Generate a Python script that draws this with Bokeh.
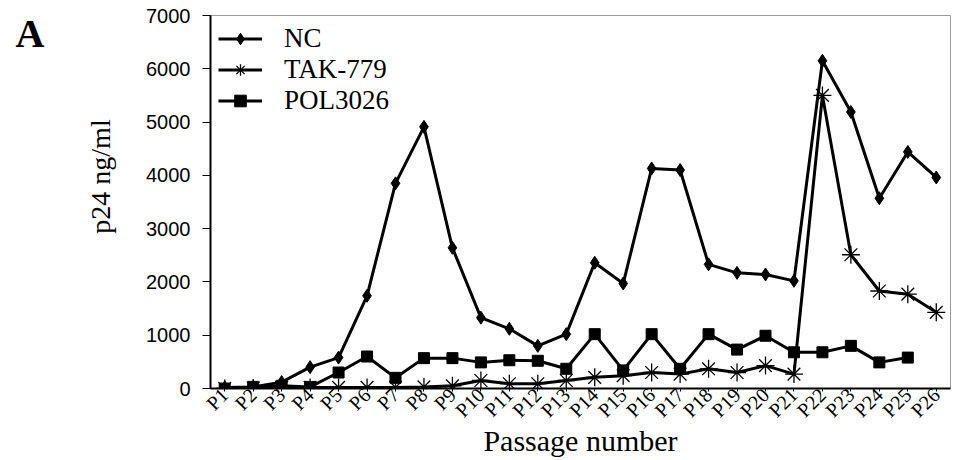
import math
from bokeh.plotting import figure
from bokeh.layouts import row
from bokeh.models import (FactorRange, Range1d, Legend, LegendItem,
                          FixedTicker, ColumnDataSource)
from bokeh.core.properties import value
from bokeh.embed import file_html
from bokeh.resources import INLINE

passages = ["P1", "P2", "P3", "P4", "P5", "P6", "P7", "P8", "P9", "P10",
            "P11", "P12", "P13", "P14", "P15", "P16", "P17", "P18", "P19",
            "P20", "P21", "P22", "P23", "P24", "P25", "P26"]
nc = [20, 30, 120, 400, 580, 1740, 3850, 4910, 2640, 1330, 1120, 800, 1020,
      2360, 1970, 4130, 4100, 2330, 2170, 2140, 2020, 6150, 5190, 3570, 4440, 3960]
tak779 = [0, 10, 20, 20, 20, 20, 20, 30, 50, 150, 90, 90, 150, 210, 240, 300,
          270, 370, 300, 430, 270, 5500, 2510, 1830, 1770, 1430]
pol3026 = [0, 30, 50, 30, 300, 600, 200, 570, 570, 490, 530, 520, 370, 1020,
           340, 1020, 370, 1020, 730, 990, 680, 680, 800, 490, 580]
y_ticks = [0, 1000, 2000, 3000, 4000, 5000, 6000, 7000]
panel_letter = "A"
y_title = "p24 ng/ml"
x_title = "Passage number"

SERIF = "Liberation Serif"
SANS = "Liberation Sans"

LEFT_W = 125
H = 460
TOP = 15
BOTTOM = 72

# left strip holding the panel letter and the y-axis title
# (its frame spans the same canvas rows as the main frame: 1 unit = 1 px)
pa = figure(width=LEFT_W, height=H, output_backend="svg", toolbar_location=None,
            title=None, x_range=Range1d(0, LEFT_W),
            y_range=Range1d(H - BOTTOM, TOP))
pa.axis.visible = False
pa.grid.visible = False
pa.outline_line_color = None
pa.min_border_left = 0
pa.min_border_right = 0
pa.min_border_top = TOP
pa.min_border_bottom = BOTTOM
pa.text(x=[15], y=[33], text=[panel_letter], text_font=value(SERIF),
        text_font_style="bold", text_font_size="40px", text_color="black",
        text_baseline="alphabetic", text_align="left")
pa.text(x=[100], y=[176], text=[y_title], text_font=value(SERIF),
        text_font_size="28px", text_color="black", angle=math.pi / 2,
        text_baseline="middle", text_align="center")

p = figure(width=962 - LEFT_W, height=H, output_backend="svg",
           toolbar_location=None,
           x_range=FactorRange(*passages, range_padding=0),
           y_range=Range1d(0, 7000))
p.min_border_left = 210 - LEFT_W
p.min_border_right = 12
p.min_border_top = TOP
p.min_border_bottom = BOTTOM
p.background_fill_color = "white"
p.border_fill_color = "white"
p.outline_line_color = "#9a9a9a"
p.outline_line_width = 1
p.xgrid.visible = False
p.ygrid.visible = False

src_nc = ColumnDataSource(dict(x=passages, y=nc))
src_tak = ColumnDataSource(dict(x=passages, y=tak779))
src_pol = ColumnDataSource(dict(x=passages[:len(pol3026)], y=pol3026))

lw = 3
l_tak = p.line("x", "y", source=src_tak, line_color="black", line_width=lw)
s_tak = p.scatter("x", "y", source=src_tak, marker="asterisk", size=18,
                  line_color="black", line_width=1.3)
l_pol = p.line("x", "y", source=src_pol, line_color="black", line_width=lw)
s_pol = p.scatter("x", "y", source=src_pol, marker="square", size=11,
                  fill_color="black", line_color="black")
l_nc = p.line("x", "y", source=src_nc, line_color="black", line_width=lw)
s_nc = p.scatter("x", "y", source=src_nc, marker="diamond", size=13,
                 fill_color="black", line_color="black")

legend = Legend(items=[
    LegendItem(label="NC", renderers=[l_nc, s_nc]),
    LegendItem(label="TAK-779", renderers=[l_tak, s_tak]),
    LegendItem(label="POL3026", renderers=[l_pol, s_pol]),
], location="top_left")
legend.border_line_color = None
legend.background_fill_alpha = 0
legend.label_text_font = SERIF
legend.label_text_font_size = "27px"
legend.label_text_color = "black"
legend.glyph_width = 44
legend.glyph_height = 29
legend.label_height = 29
legend.spacing = 0
legend.padding = 2
legend.margin = 8
legend.label_standoff = 22
p.add_layout(legend)

# y axis
p.yaxis.ticker = FixedTicker(ticks=y_ticks)
p.yaxis.minor_tick_line_color = None
p.yaxis.major_tick_out = 8
p.yaxis.major_tick_in = 0
p.yaxis.major_label_standoff = 12
p.yaxis.major_label_text_font = SANS
p.yaxis.major_label_text_font_size = "20px"
p.yaxis.major_label_text_color = "black"
p.yaxis.axis_line_width = 2
p.yaxis.axis_line_color = "black"
p.yaxis.major_tick_line_color = "black"

# x axis
p.xaxis.major_label_orientation = math.pi / 4
p.xaxis.major_label_text_font = SERIF
p.xaxis.major_label_text_font_size = "20px"
p.xaxis.major_label_text_color = "black"
p.xaxis.major_label_standoff = 0
p.xaxis.major_tick_out = 3
p.xaxis.major_tick_in = 0
p.xaxis.axis_line_width = 2
p.xaxis.axis_line_color = "black"
p.xaxis.major_tick_line_color = "black"
p.xaxis.axis_label = x_title
p.xaxis.axis_label_text_font = SERIF
p.xaxis.axis_label_text_font_style = "normal"
p.xaxis.axis_label_text_font_size = "30px"
p.xaxis.axis_label_text_color = "black"
p.xaxis.axis_label_standoff = -8

layout = row(pa, p, spacing=0)
open("out.html", "w").write(file_html(layout, INLINE))
